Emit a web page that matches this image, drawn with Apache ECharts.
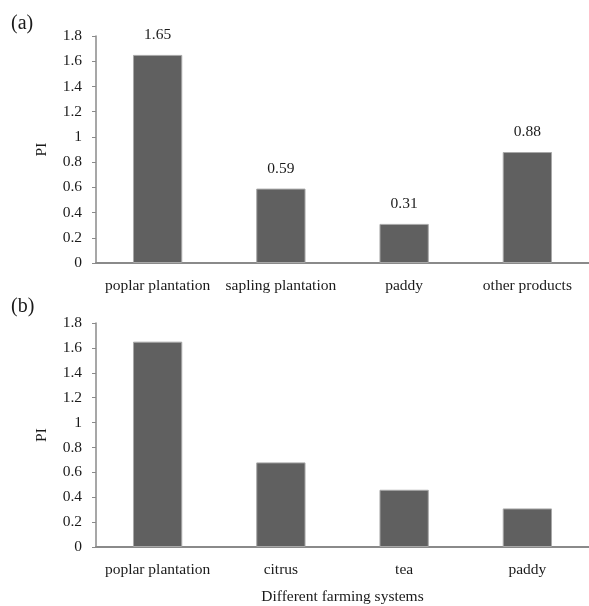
<!DOCTYPE html>
<html><head><meta charset="utf-8">
<script src="https://cdn.jsdelivr.net/npm/echarts@6/dist/echarts.min.js"></script>
<style>html,body{margin:0;padding:0;background:#fff}#c{width:589px;height:606px}</style>
</head><body><div id="c"></div>
<script>
const catsA = ['poplar plantation', 'sapling plantation', 'paddy', 'other products'];
const valsA = [1.65, 0.59, 0.31, 0.88];
const catsB = ['poplar plantation', 'citrus', 'tea', 'paddy'];
const valsB = [1.65, 0.68, 0.46, 0.31];
const yTicks = [0, 0.2, 0.4, 0.6, 0.8, 1, 1.2, 1.4, 1.6, 1.8];
const yName = 'PI';
const xNameB = 'Different farming systems';

const FONT = 'Liberation Serif';
const txt = {fontFamily: FONT, fontSize: 15.5, color: '#1a1a1a'};
function yAxis(idx) {
  return {
    type: 'value', gridIndex: idx, min: yTicks[0], max: yTicks[yTicks.length - 1], interval: 0.2,
    name: yName, nameLocation: 'middle', nameGap: 46, nameRotate: 90,
    nameTextStyle: Object.assign({}, txt),
    axisLine: {show: true, lineStyle: {color: '#8a8a8a', width: 1.5}},
    axisTick: {show: true, length: 4, lineStyle: {color: '#8a8a8a'}},
    splitLine: {show: false},
    axisLabel: Object.assign({margin: 14, formatter: v => String(Math.round(v * 10) / 10)}, txt)
  };
}
function xAxis(idx, cats, name) {
  const o = {
    type: 'category', gridIndex: idx, data: cats,
    axisLine: {show: true, lineStyle: {color: '#8a8a8a', width: 2}},
    axisTick: {show: false},
    axisLabel: Object.assign({margin: 15, interval: 0}, txt)
  };
  if (name) {
    o.name = name; o.nameLocation = 'middle'; o.nameGap = 42;
    o.nameTextStyle = Object.assign({}, txt);
  }
  return o;
}
const barStyle = {color: '#606060', borderColor: '#a8a8a8', borderWidth: 1};
const chart = echarts.init(document.getElementById('c'), null, {renderer: 'canvas'});
chart.setOption({
  animation: false,
  backgroundColor: '#fff',
  title: [
    {text: '(a)', left: 6, top: 9, textStyle: {fontFamily: FONT, fontSize: 20, fontWeight: 'normal', color: '#1a1a1a'}},
    {text: '(b)', left: 6, top: 292, textStyle: {fontFamily: FONT, fontSize: 20, fontWeight: 'normal', color: '#1a1a1a'}}
  ],
  grid: [
    {left: 96, top: 36, width: 493, height: 227, containLabel: false},
    {left: 96, top: 323, width: 493, height: 226, containLabel: false}
  ],
  xAxis: [xAxis(0, catsA), xAxis(1, catsB, xNameB)],
  yAxis: [yAxis(0), yAxis(1)],
  series: [
    {type: 'bar', xAxisIndex: 0, yAxisIndex: 0, data: valsA, barCategoryGap: '60%', itemStyle: barStyle,
     label: Object.assign({show: true, position: 'top', distance: 12}, txt)},
    {type: 'bar', xAxisIndex: 1, yAxisIndex: 1, data: valsB, barCategoryGap: '60%', itemStyle: barStyle}
  ]
});
</script></body></html>
